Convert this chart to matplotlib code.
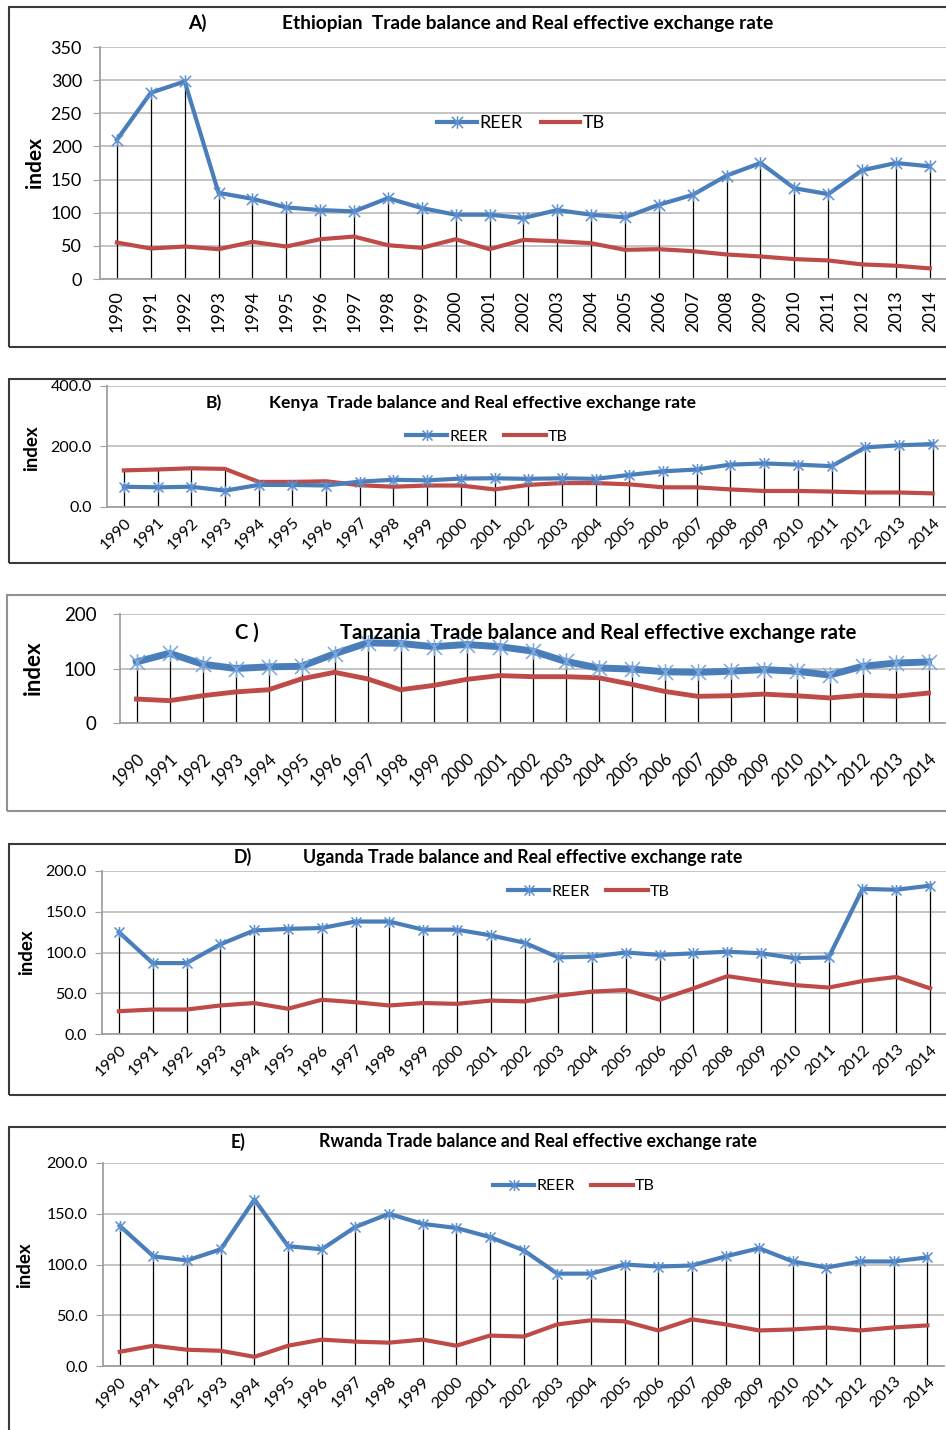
import matplotlib.pyplot as plt
from matplotlib.path import Path
from matplotlib.patches import Rectangle
from matplotlib.lines import Line2D

years = [str(y) for y in range(1990, 2015)]

# A) Ethiopia
eth_reer = [210, 281, 298, 130, 121, 108, 104, 102, 122, 107, 97, 97, 92, 104, 97, 93,
            112, 127, 156, 175, 137, 128, 164, 175, 170]
eth_tb = [55, 46, 49, 45, 56, 49, 60, 64, 51, 47, 60, 45, 59, 57, 54, 44,
          45, 42, 37, 34, 30, 28, 22, 20, 16]
# B) Kenya
ken_reer = [67, 65, 67, 54, 73, 73, 71, 84, 90, 88, 94, 95, 93, 95, 93, 106,
            118, 124, 140, 144, 140, 135, 197, 204, 208]
ken_tb = [121, 124, 128, 126, 83, 83, 85, 72, 67, 71, 71, 58, 73, 79, 79, 75,
          65, 65, 58, 53, 53, 51, 48, 48, 45]
# C) Tanzania
tza_reer = [112, 128, 108, 100, 103, 104, 127, 147, 146, 140, 144, 140, 132, 113, 101, 99,
            94, 93, 95, 98, 95, 88, 104, 110, 112]
tza_tb = [44, 41, 50, 57, 61, 81, 93, 81, 61, 69, 80, 87, 85, 85, 83, 71,
          58, 49, 50, 53, 50, 46, 51, 49, 55]
# D) Uganda
uga_reer = [125, 87, 87, 110, 127, 129, 130, 138, 138, 128, 128, 121, 112, 94, 95, 100,
            97, 99, 101, 99, 93, 94, 178, 177, 182]
uga_tb = [28, 30, 30, 35, 38, 31, 42, 39, 35, 38, 37, 41, 40, 47, 52, 54,
          42, 56, 71, 65, 60, 57, 65, 70, 56]
# E) Rwanda
rwa_reer = [138, 108, 104, 115, 164, 118, 115, 137, 150, 140, 136, 127, 114, 91, 91, 100,
            98, 99, 108, 116, 103, 97, 103, 103, 107]
rwa_tb = [14, 20, 16, 15, 9, 20, 26, 24, 23, 26, 20, 30, 29, 41, 45, 44,
          35, 46, 41, 35, 36, 38, 35, 38, 40]

W, H = 946, 1430
BLUE = '#4A7EBB'
RED = '#BE4B48'
FONT = ['Lato', 'DejaVu Sans']
plt.rcParams['font.family'] = FONT

star = Path([(0, -1), (0, 1), (-0.9, -0.9), (0.9, 0.9), (-0.9, 0.9), (0.9, -0.9)],
            [Path.MOVETO, Path.LINETO, Path.MOVETO, Path.LINETO, Path.MOVETO, Path.LINETO])

fig = plt.figure(figsize=(W / 100, H / 100), dpi=100)


def fx(x):
    return x / W


def fy(y):
    return 1 - y / H


def panel(reer, tb, box, left, step, top, bottom, ylim, yticks, yfmt, label, title,
          lab_xy, tit_xy, idx_xy, leg_xy=None, rot=45, tsize=11.5, ysize=None, titsize=11.5,
          idxsize=13.5, lw_r=3.0, lw_t=3.0, ms=8, xpad=6, ypad=6, boxcol='#3a3a3a',
          hlen=2.6, mcol='#5B8FD0'):
    # outer frame of the panel
    fig.patches.append(Rectangle((fx(box[0]), fy(box[3])), fx(960 - box[0]), (box[3] - box[1]) / H,
                                 transform=fig.transFigure, fill=False, edgecolor=boxcol, lw=1.5))
    ax = fig.add_axes([fx(left), fy(bottom), 25 * step / W, (bottom - top) / H])
    x = list(range(len(years)))
    hi = [max(a, b) for a, b in zip(reer, tb)]
    ax.vlines(x, 0, hi, color='black', lw=0.9, zorder=2)
    ax.plot(x, tb, color=RED, lw=lw_t, zorder=3, solid_joinstyle='round')
    ax.plot(x, reer, color=BLUE, lw=lw_r, zorder=4, marker=star, ms=ms, mew=1.1,
            mec=mcol, solid_joinstyle='round')
    ax.set_xlim(-0.5, len(years) - 0.5)
    ax.set_ylim(*ylim)
    ax.set_yticks(yticks)
    ax.set_yticklabels([yfmt % v for v in yticks], fontsize=ysize or tsize)
    ax.set_xticks(x)
    if rot == 90:
        ax.set_xticklabels(years, rotation=90, fontsize=tsize, ha='center', va='top')
    else:
        ax.set_xticklabels(years, rotation=45, fontsize=tsize, ha='right', va='top',
                           rotation_mode='anchor')
    ax.tick_params(axis='x', length=0, pad=xpad)
    ax.tick_params(axis='y', length=5, color='#A0A0A0', pad=ypad)
    ax.grid(axis='y', color='#BFBFBF', lw=1.3, zorder=0)
    ax.set_axisbelow(True)
    for s in ('top', 'right'):
        ax.spines[s].set_visible(False)
    for s in ('left', 'bottom'):
        ax.spines[s].set_color('#A0A0A0')
        ax.spines[s].set_linewidth(1.3)
    fig.text(fx(lab_xy[0]), fy(lab_xy[1]), label, fontsize=titsize, fontweight='bold',
             ha='center', va='center')
    fig.text(fx(tit_xy[0]), fy(tit_xy[1]), title, fontsize=titsize, fontweight='bold',
             ha='center', va='center')
    fig.text(fx(idx_xy[0]), fy(idx_xy[1]), 'index', fontsize=idxsize, fontweight='bold',
             rotation=90, ha='center', va='center')
    if leg_xy is not None:
        handles = [Line2D([], [], color=BLUE, lw=lw_r, marker=star, ms=ms, mew=1.1, mec=mcol),
                   Line2D([], [], color=RED, lw=lw_t)]
        fig.legend(handles, ['REER', 'TB'], ncol=2, frameon=False, fontsize=tsize,
                   loc='center', bbox_to_anchor=(fx(leg_xy[0]), fy(leg_xy[1])),
                   handlelength=hlen, handletextpad=0.15, columnspacing=1.0)
    return ax


panel(eth_reer, eth_tb, (9, 7, 946, 347), 100, 33.87, 47, 279, (0, 350),
      [0, 50, 100, 150, 200, 250, 300, 350], '%d', 'A)',
      'Ethiopian  Trade balance and Real effective exchange rate',
      (197, 23), (528, 23), (35, 163), leg_xy=(521, 123), rot=90,
      tsize=13, titsize=13.8, idxsize=15, ms=9, xpad=8, ypad=8, hlen=2.2)

panel(ken_reer, ken_tb, (9, 379, 946, 563), 107, 33.7, 386, 507, (0, 400),
      [0, 200, 400], '%.1f', 'B)',
      'Kenya  Trade balance and Real effective exchange rate',
      (214, 403), (482, 403), (32, 448), leg_xy=(487, 437),
      tsize=11.5, titsize=12.6)

panel(tza_reer, tza_tb, (7, 595, 946, 811), 120, 33.0, 614, 723, (0, 200),
      [0, 100, 200], '%d', 'C )',
      'Tanzania  Trade balance and Real effective exchange rate',
      (247, 633), (598, 633), (33, 668), leg_xy=None,
      tsize=12, ysize=13.5, titsize=14.6, idxsize=16, lw_r=5, lw_t=3.5, ms=12,
      xpad=20, ypad=12, boxcol='#909090', mcol='#7AA7DD')

panel(uga_reer, uga_tb, (9, 844, 946, 1095), 102, 33.8, 871, 1034, (0, 200),
      [0, 50, 100, 150, 200], '%.1f', 'D)',
      'Uganda Trade balance and Real effective exchange rate',
      (243, 857), (523, 857), (27, 952), leg_xy=(589, 892),
      tsize=11.5, titsize=12.8)

panel(rwa_reer, rwa_tb, (9, 1127, 946, 1500), 103, 33.65, 1163, 1366, (0, 200),
      [0, 50, 100, 150, 200], '%.1f', 'E)',
      'Rwanda Trade balance and Real effective exchange rate',
      (238, 1142), (538, 1142), (25, 1265), leg_xy=(574, 1186),
      tsize=11.5, titsize=12.7)

fig.savefig('out.png', dpi=100)
